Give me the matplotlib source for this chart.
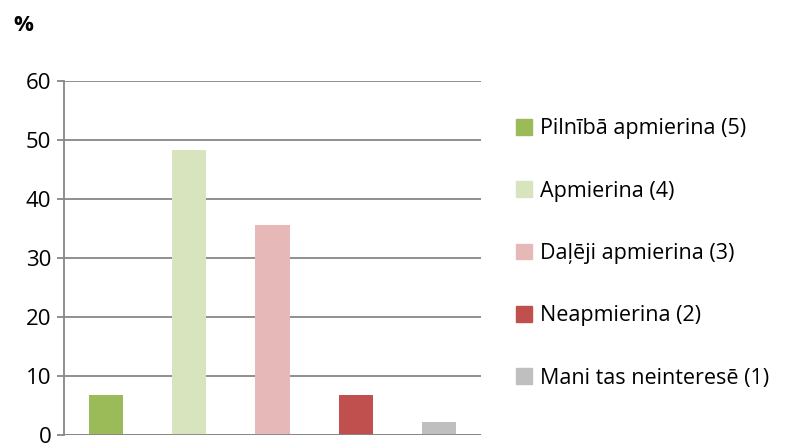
import matplotlib.pyplot as plt
from matplotlib.patches import Patch

plt.rcParams['font.family'] = ['Open Sans', 'DejaVu Sans']

labels = ['Pilnībā apmierina (5)', 'Apmierina (4)', 'Daļēji apmierina (3)',
          'Neapmierina (2)', 'Mani tas neinteresē (1)']
values = [6.8, 48.3, 35.6, 6.8, 2.2]
colors = ['#9BBB59', '#D7E4BD', '#E6B9B8', '#C0504D', '#BFBFBF']

fig = plt.figure(figsize=(7.93, 4.46), dpi=100)
ax = fig.add_axes([0.0807, 0.0247, 0.5259, 0.7937])

x = range(len(values))
ax.bar(x, values, width=0.41, color=colors, zorder=3)

ax.set_xlim(-0.5, len(values) - 0.5)
ax.set_ylim(0, 60)
ax.set_yticks(range(0, 61, 10))
ax.set_xticks([])
ax.grid(axis='y', color='#878787', linewidth=1.3, zorder=0)
for s in ['top', 'right', 'bottom']:
    ax.spines[s].set_visible(False)
ax.spines['left'].set_color('#878787')
ax.spines['left'].set_linewidth(1.3)
ax.axhline(0, color='#878787', linewidth=1.3, zorder=4)
ax.tick_params(axis='y', length=5, color='#878787', width=1.3,
               labelsize=16, pad=4)

fig.text(0.017, 0.93, '%', fontsize=16, fontweight='bold')

handles = [Patch(color=c) for c in colors]
fig.legend(handles, labels, loc='upper left', bbox_to_anchor=(0.64, 0.754),
           frameon=False, fontsize=15.5, handlelength=0.74, handleheight=0.74,
           handletextpad=0.37, labelspacing=1.92, borderaxespad=0)

fig.savefig('out.png', dpi=100)
